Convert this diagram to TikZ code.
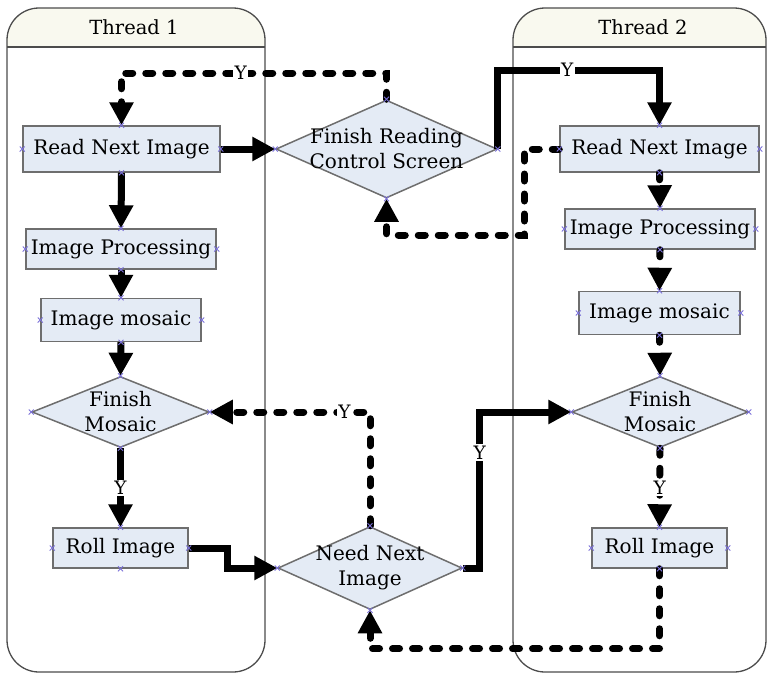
\documentclass[tikz,border=0pt]{standalone}
\usepackage{fontspec}
\setmainfont{DejaVu Serif}
\usetikzlibrary{arrows.meta,shapes.geometric}

\definecolor{boxfill}{HTML}{E4EBF5}
\definecolor{boxline}{HTML}{6E6E6E}
\definecolor{lanehead}{HTML}{F9F9EF}
\definecolor{marker}{HTML}{7A70D8}

\tikzset{
  lane/.style={draw=black!70, line width=1.3pt, rounded corners=32pt},
  lanetitle/.style={font=\fontsize{19.5}{22}\selectfont, inner sep=0pt},
  proc/.style={rectangle, draw=boxline, fill=boxfill, line width=1.5pt, inner sep=0pt,
    font=\fontsize{20}{22}\selectfont},
  decision/.style={diamond, draw=boxline, fill=boxfill, line width=1.5pt, inner sep=0pt},
  dtext/.style={align=center, font=\fontsize{20}{25}\selectfont, inner sep=0pt},
  flow/.style={line width=7pt, -{Triangle[length=23pt,width=23pt]}},
  flowdash/.style={flow, line cap=round, dash pattern=on 7pt off 13pt},
  ylab/.style={fill=white, inner sep=1.5pt, font=\fontsize{18.5}{18.5}\selectfont},
  mk/.style={draw=marker, line width=0.8pt},
}

\begin{document}
\begin{tikzpicture}[x=1pt, y=-1pt]
\useasboundingbox (0,0) rectangle (768,675);

% swim lanes
\begin{scope}
  \clip (0,8) rectangle (768,47);
  \fill[lanehead, rounded corners=32pt] (7,8) rectangle (265,672);
  \fill[lanehead, rounded corners=32pt] (513,8) rectangle (766,672);
\end{scope}
\draw[lane] (7,8) rectangle (265,672);
\draw[lane] (513,8) rectangle (766,672);
\draw[draw=black!70, line width=1.3pt] (7,47) -- (265,47);
\draw[draw=black!70, line width=1.3pt] (513,47) -- (766,47);
\node[lanetitle] (t1) at (134,27) {Thread 1};
\node[lanetitle] (t2) at (643,27) {Thread 2};

% thread 1
\node[proc, minimum width=197pt, minimum height=46pt] (rnia) at (121.5,149) {Read Next Image};
\node[proc, minimum width=190pt, minimum height=40pt] (ipa) at (121,249) {Image Processing};
\node[proc, minimum width=160pt, minimum height=43pt] (ima) at (121,320) {Image mosaic};
\node[decision, minimum width=177pt, minimum height=71pt] (fma) at (120.5,412) {};
\node[dtext] (fmat) at (fma) {Finish\\Mosaic};
\node[proc, minimum width=135pt, minimum height=40pt] (rla) at (120.5,548) {Roll Image};

% middle decisions
\node[decision, minimum width=221pt, minimum height=98pt] (frcs) at (386.5,149) {};
\node[dtext] (frcst) at (frcs) {Finish Reading\\Control Screen};
\node[decision, minimum width=184pt, minimum height=83pt] (nni) at (370,568) {};
\node[dtext] (nnit) at (nni) {Need Next\\Image};

% thread 2
\node[proc, minimum width=199pt, minimum height=46pt] (rnib) at (659.5,149) {Read Next Image};
\node[proc, minimum width=190pt, minimum height=40pt] (ipb) at (660,229) {Image Processing};
\node[proc, minimum width=161pt, minimum height=43pt] (imb) at (659.5,313) {Image mosaic};
\node[decision, minimum width=176pt, minimum height=71pt] (fmb) at (660,412) {};
\node[dtext] (fmbt) at (fmb) {Finish\\Mosaic};
\node[proc, minimum width=135pt, minimum height=40pt] (rlb) at (659.5,548) {Roll Image};

% thread 1 flow
\draw[flow] (rnia.south) -- (ipa.north);
\draw[flow] (ipa.south) -- (ima.north);
\draw[flow] (ima.south) -- (fma.north);
\draw[flow] (fma.south) -- node[ylab] {Y} (rla.north);
\draw[flow] (rnia.east) -- (frcs.west);
\draw[flow] (rla.east) -- ++(39,0) |- (nni.west);

% hand-over between threads
\draw[flow] (frcs.east) -- (frcs.east |- 0,70)
  -- node[ylab, pos=0.43] {Y} (rnib.north |- 0,70) -- (rnib.north);
\draw[flowdash] (frcs.north) -- (frcs.north |- 0,73)
  -- node[ylab, pos=0.55] {Y} (rnia.north |- 0,73) -- (rnia.north);
\draw[flowdash] (rnib.west) -- ++(-35,0) -- ++(0,86) -| (frcs.south);
\draw[flowdash] (nni.north) -- (nni.north |- fma.east)
  -- node[ylab, pos=0.16] {Y} (fma.east);
\draw[flow] (nni.east) -- ++(17,0) -- node[ylab, pos=0.74] {Y} ++(0,-156) -- (fmb.west);

% thread 2 flow
\draw[flowdash] (rnib.south) -- (ipb.north);
\draw[flowdash] (ipb.south) -- (imb.north);
\draw[flowdash] (imb.south) -- (fmb.north);
\draw[flowdash] (fmb.south) -- node[ylab] {Y} (rlb.north);
\draw[flowdash] (rlb.south) -- ++(0,80) -| (nni.south);

% connection point markers
\foreach \n in {rnia,ipa,ima,fma,rla,frcs,nni,rnib,ipb,imb,fmb,rlb}
  \foreach \a in {north,south,east,west}
    {\draw[mk] (\n.\a) ++(-2.5,-2.5) -- ++(5,5) ++(-5,0) -- ++(5,-5);}
\end{tikzpicture}
\end{document}
